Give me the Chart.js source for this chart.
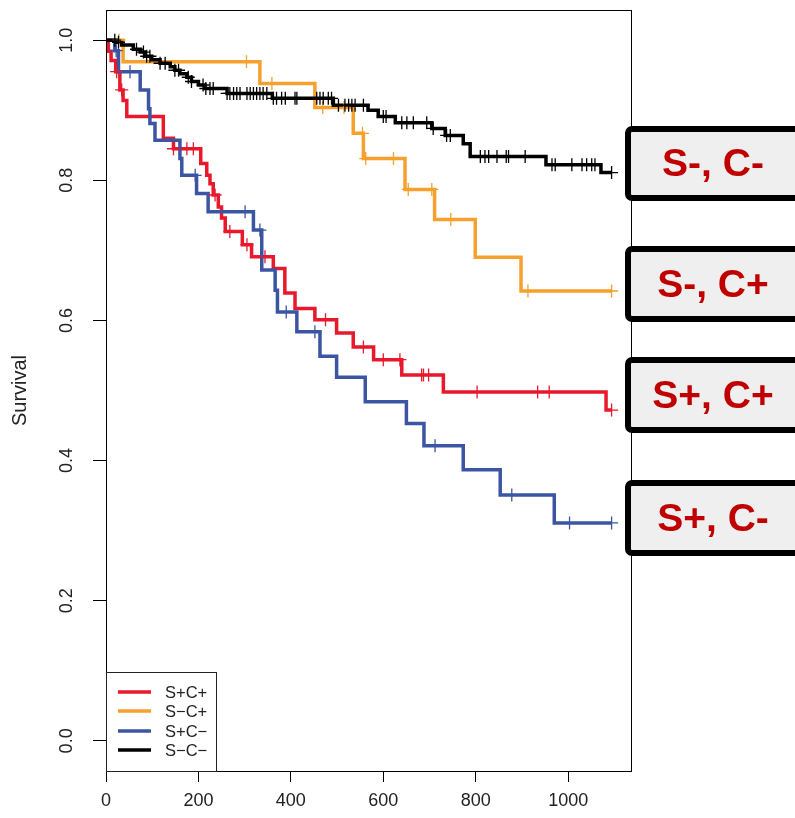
<!DOCTYPE html>
<html>
<head>
<meta charset="utf-8">
<script src="https://cdn.jsdelivr.net/npm/chart.js@4.4.0/dist/chart.umd.min.js"></script>
<style>
  body { margin: 0; background: #fff; }
</style>
</head>
<body>
<canvas id="survChart" width="795" height="818"></canvas>
<script>
// DADOS
const groups = ['S+C+', 'S−C+', 'S+C−', 'S−C−'];
const boxLabels = ['S-, C-', 'S-, C+', 'S+, C+', 'S+, C-'];
const colors = ['#E8192C', '#F6A12D', '#3B55A3', '#000000'];
const xTicks = [0, 200, 400, 600, 800, 1000];
const yTicks = [0, 0.2, 0.4, 0.6, 0.8, 1.0];
const endTime = 1094;

const redTimes = [0, 5, 11, 21, 30, 37, 45, 124, 146, 205, 218, 225, 232, 243, 250, 258, 295, 315, 362, 387, 409, 452, 499, 535, 579, 640, 730, 1082];
const redSurv = [1, 0.984, 0.971, 0.955, 0.929, 0.914, 0.891, 0.860, 0.845, 0.824, 0.807, 0.795, 0.779, 0.762, 0.746, 0.727, 0.708, 0.691, 0.674, 0.639, 0.617, 0.601, 0.582, 0.562, 0.544, 0.522, 0.498, 0.472];
const redCensor = [23, 34, 146, 175, 189, 236, 268, 305, 344, 475, 557, 600, 636, 683, 687, 698, 803, 934, 959, 1094];

const orangeTimes = [0, 37, 333, 452, 535, 557, 647, 711, 799, 898];
const orangeSurv = [1, 0.969, 0.938, 0.904, 0.867, 0.831, 0.787, 0.744, 0.690, 0.642];
const orangeCensor = [28, 304, 359, 469, 515, 555, 562, 622, 654, 705, 746, 913, 1094];

const blueTimes = [0, 19, 27, 74, 92, 95, 106, 160, 164, 196, 221, 319, 337, 366, 371, 413, 463, 499, 561, 650, 688, 773, 853, 970];
const blueSurv = [1, 0.985, 0.955, 0.929, 0.902, 0.881, 0.857, 0.831, 0.807, 0.781, 0.755, 0.729, 0.672, 0.643, 0.612, 0.584, 0.549, 0.519, 0.484, 0.453, 0.421, 0.387, 0.351, 0.311];
const blueCensor = [22, 52, 193, 301, 333, 390, 452, 712, 878, 1003, 1094];

const blackTimes = [0, 23, 34, 59, 74, 84, 99, 117, 139, 149, 160, 175, 185, 200, 214, 262, 360, 492, 567, 589, 626, 705, 734, 773, 788, 952, 1071];
const blackSurv = [1, 0.997, 0.993, 0.987, 0.983, 0.977, 0.972, 0.967, 0.962, 0.957, 0.952, 0.947, 0.941, 0.936, 0.931, 0.924, 0.917, 0.907, 0.900, 0.891, 0.882, 0.874, 0.864, 0.852, 0.834, 0.822, 0.811];
const blackCensor = [19, 27, 66, 81, 88, 95, 117, 128, 149, 157, 178, 185, 210, 216, 225, 232, 262, 268, 276, 283, 290, 305, 312, 319, 326, 333, 340, 348, 362, 369, 380, 388, 409, 413, 456, 463, 470, 481, 488, 503, 517, 525, 532, 539, 557, 600, 606, 640, 651, 665, 694, 708, 737, 745, 810, 820, 828, 846, 866, 871, 907, 965, 972, 1008, 1030, 1040, 1051, 1058, 1094];

const series = [
    [redTimes, redSurv, redCensor],
    [orangeTimes, orangeSurv, orangeCensor],
    [blueTimes, blueSurv, blueCensor],
    [blackTimes, blackSurv, blackCensor]
];

// FUNÇÕES DA CURVA
function levelAt(times, surv, t) {
    let s = surv[0];
    for (let i = 0; i < times.length; i++) {
        if (times[i] <= t) s = surv[i];
    }
    return s;
}

function stepPoints(times, surv) {
    const pts = times.map((t, i) => ({ x: t, y: surv[i] }));
    pts.push({ x: endTime, y: surv[surv.length - 1] });
    return pts;
}

const datasets = [];
series.forEach(([times, surv, censor], i) => {
    datasets.push({
        type: 'line',
        label: groups[i],
        data: stepPoints(times, surv),
        stepped: true,
        borderColor: colors[i],
        borderWidth: 3.5,
        pointRadius: 0,
        fill: false,
        order: 10 - i
    });
    datasets.push({
        type: 'scatter',
        label: groups[i] + ' censor',
        data: censor.map(t => ({ x: t, y: levelAt(times, surv, t) })),
        pointStyle: 'cross',
        pointRadius: 6.5,
        borderColor: colors[i],
        borderWidth: 1.3,
        showLine: false,
        order: 5 - i
    });
});

// CAIXA, LEGENDA E RÓTULOS
const extras = {
    id: 'extras',
    afterDraw(chart) {
        const ctx = chart.ctx;
        const a = chart.chartArea;
        ctx.save();
        ctx.strokeStyle = '#000';
        ctx.lineWidth = 1;
        ctx.strokeRect(a.left + 0.5, a.top + 0.5, a.right - a.left, a.bottom - a.top);

        // legenda
        const lx = a.left, lw = 110, lh = 99;
        ctx.fillStyle = '#fff';
        ctx.fillRect(lx + 1, a.bottom - lh, lw - 1, lh);
        ctx.strokeStyle = '#222';
        ctx.strokeRect(lx + 0.5, a.bottom - lh + 0.5, lw, lh);
        ctx.font = "16.5px 'Liberation Sans', Arial, sans-serif";
        ctx.textBaseline = 'middle';
        ctx.textAlign = 'left';
        const rows = [79, 60, 40, 21];
        groups.forEach((g, i) => {
            const y = a.bottom - rows[i];
            ctx.strokeStyle = colors[i];
            ctx.lineWidth = 3.5;
            ctx.beginPath();
            ctx.moveTo(lx + 12, y);
            ctx.lineTo(lx + 45, y);
            ctx.stroke();
            ctx.fillStyle = '#222';
            ctx.fillText(g, lx + 59, y + 1);
        });

        // caixas à direita
        const tops = [129, 249, 360, 483];
        const hs = [69, 70, 70, 70];
        ctx.lineWidth = 6;
        ctx.strokeStyle = '#000';
        ctx.font = "bold 39px 'Liberation Sans', Arial, sans-serif";
        ctx.textAlign = 'center';
        boxLabels.forEach((t, i) => {
            ctx.beginPath();
            ctx.roundRect(628, tops[i], 180, hs[i], 4);
            ctx.fillStyle = '#EFEFEF';
            ctx.fill();
            ctx.stroke();
            ctx.fillStyle = '#C00000';
            ctx.fillText(t, 713, tops[i] + hs[i] / 2 + 2);
        });
        ctx.restore();
    }
};

Chart.defaults.font.family = "'Liberation Sans', Arial, sans-serif";

new Chart(document.getElementById('survChart'), {
    type: 'scatter',
    data: { datasets },
    options: {
        responsive: false,
        animation: false,
        layout: { padding: { left: 0, top: 10, right: 164, bottom: 0 } },
        plugins: { legend: { display: false }, tooltip: { enabled: false } },
        scales: {
            x: {
                type: 'linear',
                min: 0,
                max: 1136,
                afterBuildTicks: axis => { axis.ticks = xTicks.map(v => ({ value: v })); },
                afterFit: axis => { axis.height = 47; axis.paddingLeft = 0; axis.paddingRight = 0; },
                grid: { drawOnChartArea: false, tickLength: 11, color: '#000' },
                border: { color: '#000', width: 1 },
                ticks: { font: { size: 18 }, color: '#222', padding: 8, maxRotation: 0, callback: v => String(v) }
            },
            y: {
                type: 'linear',
                min: -0.043,
                max: 1.043,
                afterBuildTicks: axis => { axis.ticks = yTicks.map(v => ({ value: v })); },
                afterFit: axis => { axis.width = 106; axis.paddingTop = 0; axis.paddingBottom = 0; },
                grid: { drawOnChartArea: false, tickLength: 13, color: '#000' },
                border: { color: '#000', width: 1 },
                ticks: { font: { size: 18 }, color: '#222', padding: 13, minRotation: 90, maxRotation: 90, crossAlign: 'center', callback: v => v.toFixed(1) },
                title: { display: true, text: 'Survival', font: { size: 20 }, color: '#222', padding: { top: 8, bottom: 0 } }
            }
        }
    },
    plugins: [extras]
});
</script>
</body>
</html>
